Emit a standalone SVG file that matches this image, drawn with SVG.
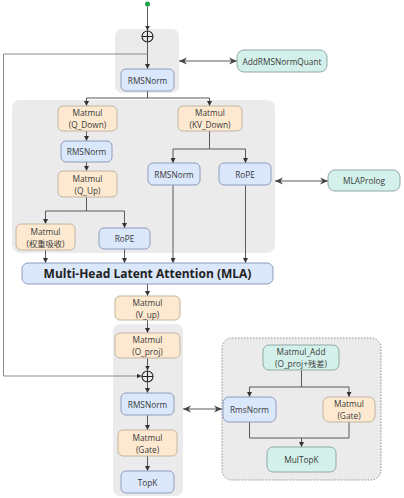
<svg xmlns="http://www.w3.org/2000/svg" width="404" height="498" viewBox="0 0 404 498">
<style>
text{font-family:"Open Sans","Noto Sans","Noto Sans CJK SC",sans-serif;font-size:8.3px;fill:#3a3a3a;text-anchor:middle;dominant-baseline:central}
.blue{fill:#dbe7fb;stroke:#8e9cbc;stroke-width:1}
.orange{fill:#fde9d0;stroke:#c4b49e;stroke-width:1}
.green{fill:#d3f1ea;stroke:#8fa9a4;stroke-width:1}
.grp{fill:#ebebeb;stroke:none}
.ln{fill:none;stroke:#5a5a5a;stroke-width:1}
.fb{fill:none;stroke:#8a8a8a;stroke-width:1}
.mla{font-size:12px;font-weight:bold;fill:#222}
</style>
<defs>
<marker id="a" viewBox="0 0 6 6" refX="6" refY="3" markerWidth="5" markerHeight="5" orient="auto" markerUnits="userSpaceOnUse"><path d="M0,0 L6,3 L0,6 z" fill="#333"/></marker>
<marker id="b" viewBox="0 0 8 8" refX="8" refY="4" markerWidth="8" markerHeight="8" orient="auto-start-reverse" markerUnits="userSpaceOnUse"><path d="M0,0.5 L8,4 L0,7.5 L2.5,4 z" fill="#444"/></marker>
</defs>
<rect width="404" height="498" fill="#fff"/>

<g id="groups">
<rect class="grp" x="115" y="29" width="64" height="64" rx="7"/>
<rect class="grp" x="12" y="100" width="263" height="153" rx="8"/>
<rect class="grp" x="113" y="324" width="70" height="172" rx="7"/>
<rect x="222" y="338" width="159" height="142" rx="10" fill="#ebebeb" stroke="#777" stroke-width="0.8" stroke-dasharray="1.5,1.5"/>
</g>

<g id="connectors">
<circle cx="147.5" cy="4" r="2.5" fill="#1aa34a"/>
<path class="ln" d="M147.5,6.5 V30.5" marker-end="url(#a)"/>
<path class="ln" d="M147.5,42.5 V69" marker-end="url(#a)"/>
<path class="fb" d="M147.5,54 H3.5 V376 H141.5" marker-end="url(#a)"/>
<path class="ln" d="M179,61 H237" marker-start="url(#b)" marker-end="url(#b)"/>
<path class="ln" d="M147.5,91 V98"/>
<path class="ln" d="M86.5,106 V98 H209.5 V106"/>
<path class="ln" d="M86.5,98 V106" marker-end="url(#a)"/>
<path class="ln" d="M209.5,98 V106" marker-end="url(#a)"/>
<path class="ln" d="M86.5,131 V141" marker-end="url(#a)"/>
<path class="ln" d="M86.5,162 V171" marker-end="url(#a)"/>
<path class="ln" d="M86.5,197 V211 H45.5 V224" marker-end="url(#a)"/>
<path class="ln" d="M86.5,211 H124.5 V228" marker-end="url(#a)"/>
<path class="ln" d="M209.5,131 V149 H173 V163" marker-end="url(#a)"/>
<path class="ln" d="M209.5,149 H245.5 V163" marker-end="url(#a)"/>
<path class="ln" d="M275,181 H328" marker-start="url(#b)" marker-end="url(#b)"/>
<path class="ln" d="M45.5,250 V263" marker-end="url(#a)"/>
<path class="ln" d="M124.5,249 V263" marker-end="url(#a)"/>
<path class="ln" d="M173,185 V263" marker-end="url(#a)"/>
<path class="ln" d="M245.5,185 V263" marker-end="url(#a)"/>
<path class="ln" d="M147.5,284 V296" marker-end="url(#a)"/>
<path class="ln" d="M147.5,320 V333" marker-end="url(#a)"/>
<path class="ln" d="M147.5,358 V370.5" marker-end="url(#a)"/>
<path class="ln" d="M147.5,382.5 V393" marker-end="url(#a)"/>
<path class="ln" d="M147.5,415 V430" marker-end="url(#a)"/>
<path class="ln" d="M147.5,456 V471" marker-end="url(#a)"/>
<path class="ln" d="M183,409 H222" marker-start="url(#b)" marker-end="url(#b)"/>
<path class="ln" d="M301.5,370 V387 H249.5 V397" marker-end="url(#a)"/>
<path class="ln" d="M301.5,387 H349 V397" marker-end="url(#a)"/>
<path class="ln" d="M249.5,422 V438 H349 V422"/>
<path class="ln" d="M301.5,438 V447" marker-end="url(#a)"/>
</g>

<g id="add1"><circle cx="147.5" cy="36.5" r="5.5" fill="none" stroke="#222" stroke-width="1.1"/><path d="M142,36.5 H153 M147.5,31 V42" stroke="#222" stroke-width="1.1"/></g>
<g id="add2"><circle cx="147.5" cy="376.5" r="5.5" fill="none" stroke="#222" stroke-width="1.1"/><path d="M142,376.5 H153 M147.5,371 V382" stroke="#222" stroke-width="1.1"/></g>

<g id="rmsnorm1"><rect class="blue" x="121" y="69" width="53" height="22" rx="5"/><text x="147.5" y="80">RMSNorm</text></g>
<g id="addrmsnormquant"><rect class="green" x="237" y="50" width="90" height="22" rx="7"/><text x="282" y="61">AddRMSNormQuant</text></g>

<g id="q_down"><rect class="orange" x="58" y="106" width="59" height="25" rx="5"/><text x="87.5" y="112.5">Matmul</text><text x="87.5" y="124.5">(Q_Down)</text></g>
<g id="kv_down"><rect class="orange" x="178" y="106" width="64" height="25" rx="5"/><text x="210" y="112.5">Matmul</text><text x="210" y="124.5">(KV_Down)</text></g>
<g id="rmsnorm_q"><rect class="blue" x="61" y="141" width="51" height="21" rx="5"/><text x="86.5" y="151.5">RMSNorm</text></g>
<g id="q_up"><rect class="orange" x="58" y="171" width="59" height="26" rx="5"/><text x="87.5" y="178">Matmul</text><text x="87.5" y="190">(Q_Up)</text></g>
<g id="absorb"><rect class="orange" x="16" y="224" width="59" height="26" rx="5"/><text x="45.5" y="231">Matmul</text><text x="45.5" y="243">(权重吸收)</text></g>
<g id="rope_q"><rect class="blue" x="99" y="228" width="51" height="21" rx="5"/><text x="124.5" y="238.5">RoPE</text></g>
<g id="rmsnorm_kv"><rect class="blue" x="148" y="163" width="52" height="22" rx="5"/><text x="174" y="174">RMSNorm</text></g>
<g id="rope_kv"><rect class="blue" x="219" y="163" width="52" height="22" rx="5"/><text x="245" y="174">RoPE</text></g>
<g id="mlaprolog"><rect class="green" x="328" y="170" width="72" height="21" rx="7"/><text x="364" y="180.5">MLAProlog</text></g>

<g id="mla"><rect class="blue" x="22" y="263" width="251" height="21" rx="6"/><text class="mla" x="147.5" y="273.5">Multi-Head Latent Attention (MLA)</text></g>

<g id="v_up"><rect class="orange" x="115" y="296" width="65" height="24" rx="5"/><text x="147.5" y="302">Matmul</text><text x="147.5" y="314">(V_up)</text></g>
<g id="o_proj"><rect class="orange" x="115" y="333" width="65" height="25" rx="5"/><text x="147.5" y="339.5">Matmul</text><text x="147.5" y="351.5">(O_proj)</text></g>
<g id="rmsnorm2"><rect class="blue" x="121" y="393" width="53" height="22" rx="5"/><text x="147.5" y="404">RMSNorm</text></g>
<g id="gate"><rect class="orange" x="118" y="430" width="59" height="26" rx="5"/><text x="147.5" y="437">Matmul</text><text x="147.5" y="449">(Gate)</text></g>
<g id="topk"><rect class="blue" x="121" y="471" width="53" height="22" rx="5"/><text x="147.5" y="482">TopK</text></g>

<g id="matmul_add"><rect class="green" x="263" y="345" width="76" height="25" rx="6"/><text x="301" y="351.5">Matmul_Add</text><text x="301" y="363.5">(O_proj+残差)</text></g>
<g id="rmsnorm3"><rect class="blue" x="223" y="397" width="53" height="25" rx="6"/><text x="249.5" y="409.5">RmsNorm</text></g>
<g id="gate2"><rect class="orange" x="323" y="397" width="52" height="25" rx="6"/><text x="349" y="403.5">Matmul</text><text x="349" y="415.5">(Gate)</text></g>
<g id="multopk"><rect class="green" x="267" y="447" width="69" height="25" rx="6"/><text x="301.5" y="459.5">MulTopK</text></g>
</svg>
